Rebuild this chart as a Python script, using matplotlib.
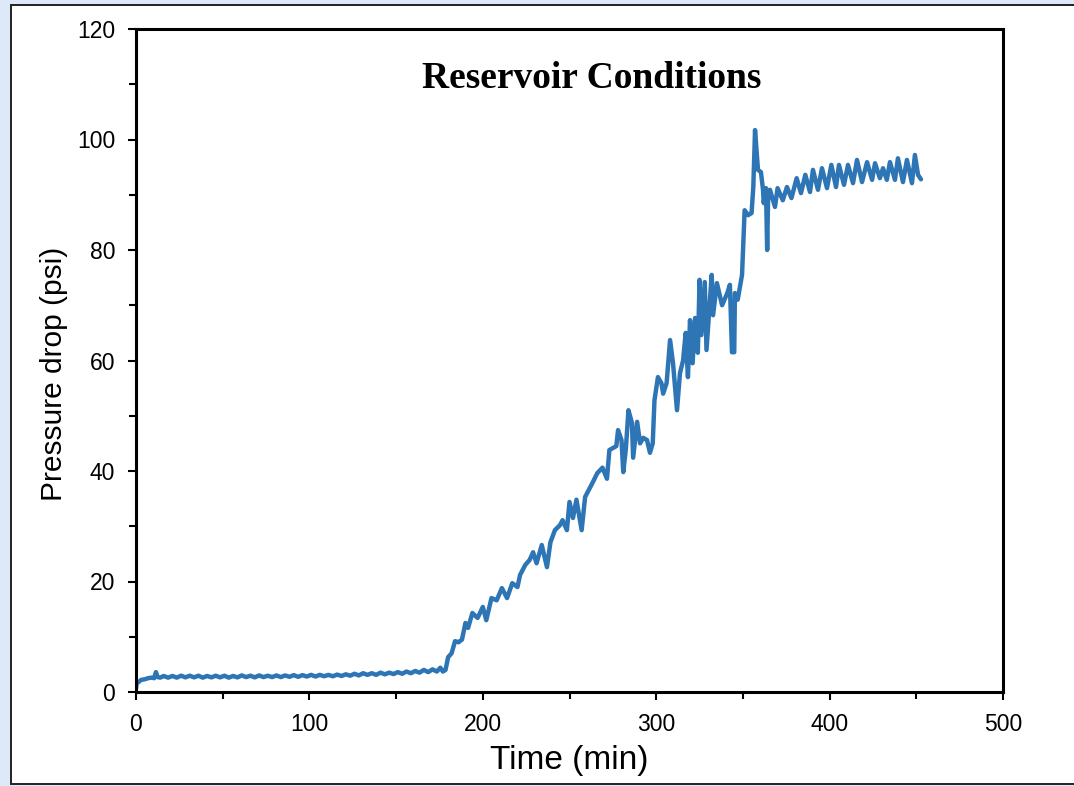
import matplotlib
matplotlib.use("Agg")
import matplotlib.pyplot as plt
from matplotlib.patches import Rectangle
from matplotlib.ticker import MultipleLocator

# Pressure drop across the core during the flood (reservoir conditions)
time_min = [
    0, 0.3, 1.5, 3, 5, 7, 9, 10.5, 11.5, 12.5, 14, 16, 18.5, 21, 23.5, 26, 28.5,
    31, 33.5, 36, 38.5, 41, 43.5, 46, 48.5, 51, 53.5, 56, 58.5, 61, 63.5, 66,
    68.5, 71, 73.5, 76, 78.5, 81, 83.5, 86, 88.5, 91, 93.5, 96, 98.5, 101, 103.5,
    106, 108.5, 111, 113.5, 116, 118.5, 121, 123.5, 126, 128.5, 131, 133.5, 136,
    138.5, 141, 143.5, 146, 148.5, 151, 153.5, 156, 158.5, 161, 163.5, 166, 168.5,
    171, 173.5, 175.5, 177, 178.5, 180, 182, 184, 186, 188, 190, 191.5, 194, 197,
    200, 202, 205, 208, 211, 214, 217, 220, 221.5, 224.5, 227, 229, 231, 234, 237,
    239, 241.6, 244.5, 246, 248.5, 250, 252, 254, 257, 259, 262, 263.5, 266, 269,
    271.6, 273, 277, 278, 280, 281, 282.5, 284, 286, 286.7, 289, 290.7, 292.5,
    294.7, 296.4, 298, 299, 301, 303, 304, 306, 308, 309.7, 312, 313.7, 315.5, 317,
    318.3, 319.5, 321, 322.4, 324, 325, 326, 328, 329, 332, 332.8, 335, 338, 341,
    342.5, 343.7, 345, 345.4, 347, 349.5, 351, 353, 355, 356, 357, 358.7, 360.4,
    361.6, 362, 363.3, 364, 364.5, 365.6, 368.5, 370, 373, 375.4, 378, 381, 383.5,
    386, 388.7, 390.4, 393.3, 395.6, 398.5, 401, 403.7, 405.4, 408.3, 410.6, 413.5,
    415.8, 418.7, 421.6, 424.5, 426.2, 429, 430.8, 433, 434.8, 437.7, 439.4, 442.3,
    444.6, 447.5, 449.2, 451, 452.7,
]
pressure_drop_psi = [
    0.6, 1.5, 1.8, 2.2, 2.3, 2.5, 2.6, 2.5, 3.6, 2.7, 2.6, 2.9, 2.6, 2.9, 2.6,
    2.95, 2.65, 2.95, 2.65, 2.95, 2.6, 2.9, 2.65, 2.95, 2.65, 2.95, 2.6, 2.9, 2.65,
    3.0, 2.7, 2.95, 2.65, 3.0, 2.7, 2.95, 2.7, 3.0, 2.7, 3.0, 2.75, 3.05, 2.75,
    3.05, 2.8, 3.1, 2.8, 3.1, 2.85, 3.1, 2.85, 3.15, 2.9, 3.2, 2.95, 3.3, 3.0, 3.4,
    3.1, 3.4, 3.1, 3.5, 3.2, 3.5, 3.25, 3.6, 3.3, 3.7, 3.4, 3.8, 3.5, 4.0, 3.6,
    4.1, 3.7, 4.4, 3.7, 4.0, 6.3, 7.0, 9.2, 9.0, 9.5, 12.5, 11.6, 14.3, 13.4, 15.4,
    13.0, 17.0, 16.6, 18.8, 17.0, 19.7, 19.0, 21.2, 23.0, 23.9, 25.3, 23.3, 26.6,
    22.6, 27.1, 29.3, 30.2, 31.1, 29.3, 34.4, 31.5, 34.8, 29.3, 35.3, 37.1, 38.0,
    39.6, 40.6, 38.6, 43.8, 44.5, 47.4, 45.6, 39.8, 44.0, 51.0, 48.7, 42.4, 48.9,
    45.0, 46.0, 45.6, 43.3, 45.0, 52.8, 57.0, 55.9, 54.0, 55.9, 63.7, 59.5, 51.0,
    57.7, 60.0, 65.0, 57.0, 67.3, 59.5, 67.7, 61.4, 74.6, 64.6, 74.2, 61.9, 75.5,
    68.2, 74.0, 70.0, 72.2, 73.7, 61.5, 61.5, 72.2, 71.0, 75.5, 87.2, 86.3, 86.7,
    91.4, 101.7, 94.5, 94.1, 90.9, 88.5, 91.2, 80.0, 89.0, 90.9, 87.8, 91.2, 89.0,
    91.4, 89.4, 93.0, 90.3, 93.6, 90.5, 94.5, 90.9, 94.8, 91.2, 95.4, 91.4, 95.4,
    91.8, 95.4, 92.1, 96.3, 92.3, 95.9, 92.7, 95.7, 93.0, 94.8, 92.7, 95.9, 92.7,
    96.6, 92.3, 96.3, 92.1, 97.2, 93.6, 92.8,
]

x_ticks = [0, 100, 200, 300, 400, 500]
y_ticks = [0, 20, 40, 60, 80, 100, 120]

fig = plt.figure(figsize=(10.74, 7.86), dpi=100)
fig.patch.set_facecolor("#dde9f8")

# white panel with a thin frame behind the axes
fig.patches.append(Rectangle((11 / 1074, 2 / 786), 1.0, 1 - 7 / 786,
                             transform=fig.transFigure, facecolor="white",
                             edgecolor="#222222", linewidth=1.4, zorder=-5))

ax = fig.add_axes([136 / 1074, 1 - 692 / 786, 867 / 1074, 663 / 786])
ax.set_zorder(2)
ax.plot(time_min, pressure_drop_psi, color="#2E75B6", linewidth=3.2,
        solid_joinstyle="round", solid_capstyle="round")

ax.set_xlim(0, 500)
ax.set_ylim(0, 120)
ax.set_xticks(x_ticks)
ax.set_yticks(y_ticks)
ax.xaxis.set_minor_locator(MultipleLocator(50))
ax.yaxis.set_minor_locator(MultipleLocator(10))

tick_font = dict(family="Liberation Sans", size=16.5)
ax.set_xticklabels([str(v) for v in x_ticks], fontdict=tick_font)
ax.set_yticklabels([str(v) for v in y_ticks], fontdict=tick_font)
ax.tick_params(which="major", direction="out", length=6, width=1.5, pad=9)
ax.tick_params(which="minor", direction="out", length=5, width=1.5)

for s in ax.spines.values():
    s.set_linewidth(2.2)

ax.set_xlabel("Time (min)", family="Liberation Sans", size=24, va="center")
ax.xaxis.set_label_coords(0.5, -0.104)
ax.set_ylabel("Pressure drop (psi)", family="Liberation Sans", size=21.5,
              va="center")
ax.yaxis.set_label_coords(-0.0946, 0.48)

ax.text(0.526, 0.926, "Reservoir Conditions", transform=ax.transAxes,
        ha="center", va="center", family="Liberation Serif",
        fontweight="bold", size=27)

fig.savefig("out.png", dpi=100, facecolor=fig.get_facecolor())
